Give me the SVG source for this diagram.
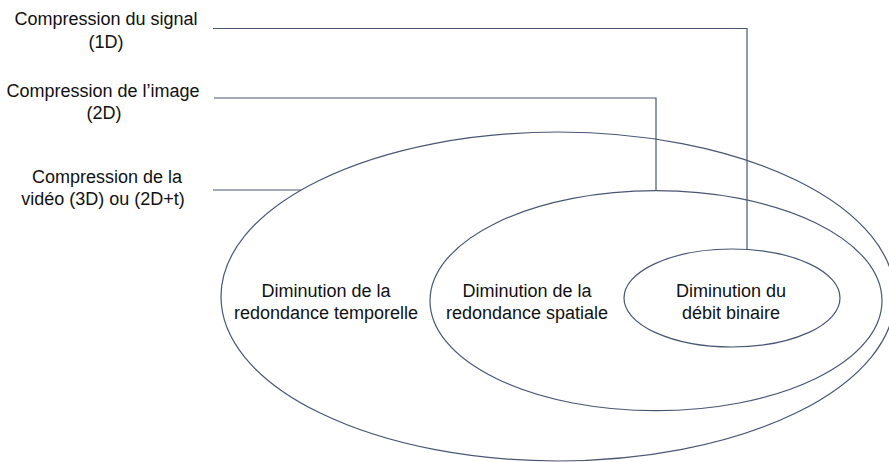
<svg xmlns="http://www.w3.org/2000/svg" width="889" height="462" viewBox="0 0 889 462">
<style>
.n{fill:none;stroke:#4a5672;stroke-width:1.2}
.c{fill:none;stroke:#4a5672;stroke-width:1.2}
text{font-family:"Liberation Sans",Arial,sans-serif;font-size:18px;fill:#111;text-anchor:middle}
</style>
<rect width="889" height="462" fill="#fff"/>
<g id="connectors">
<polyline class="c" points="213,28.5 747,28.5 747,249"/>
<polyline class="c" points="214,98 656,98 656,190.5"/>
<polyline class="c" points="213,190 301,190"/>
</g>
<g id="outer">
<ellipse class="n" cx="558" cy="296.5" rx="337" ry="164.5"/>
<text x="326" y="297">Diminution de la</text>
<text x="326" y="319">redondance temporelle</text>
</g>
<g id="middle">
<ellipse class="n" cx="656" cy="300.7" rx="226" ry="110"/>
<text x="527" y="297">Diminution de la</text>
<text x="527" y="319">redondance spatiale</text>
</g>
<g id="inner">
<ellipse class="n" cx="732" cy="298" rx="108" ry="49"/>
<text x="731" y="297">Diminution du</text>
<text x="731" y="319">débit binaire</text>
</g>
<g id="label1">
<text x="106" y="25">Compression du signal</text>
<text x="106" y="48">(1D)</text>
</g>
<g id="label2">
<text x="103" y="97">Compression de l’image</text>
<text x="104" y="119">(2D)</text>
</g>
<g id="label3">
<text x="107" y="183">Compression de la</text>
<text x="103" y="205">vidéo (3D) ou (2D+t)</text>
</g>
</svg>
